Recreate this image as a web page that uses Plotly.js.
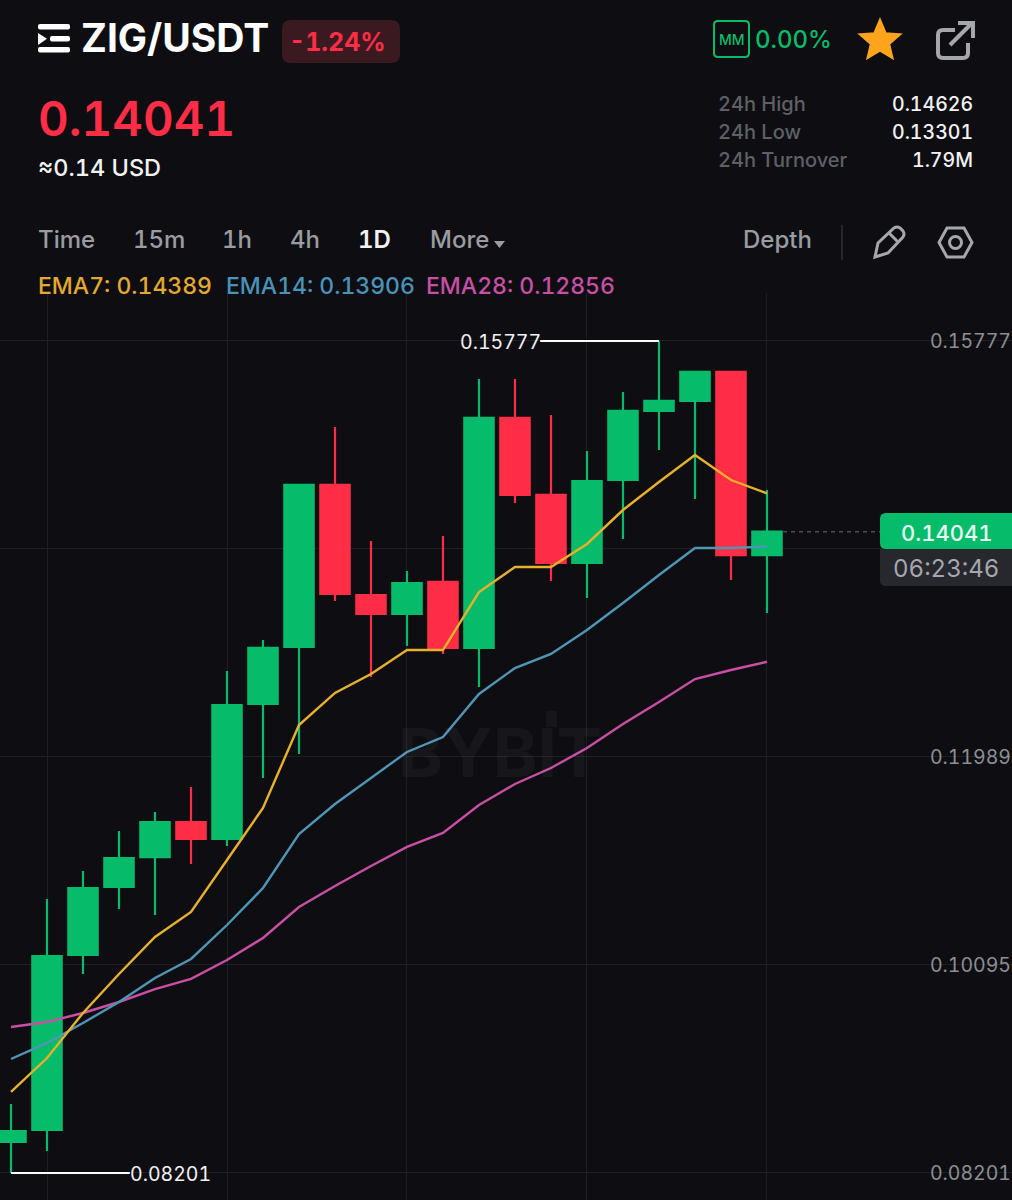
<!DOCTYPE html>
<html>
<head>
<meta charset="utf-8">
<script src="https://cdn.plot.ly/plotly-3.0.1.min.js"></script>
<style>html,body{margin:0;padding:0;background:#0E0E12;font-feature-settings:"tnum" 1;}#chart{width:1012px;height:1200px;}
text{font-feature-settings:"tnum" 1;}</style>
</head>
<body>
<div id="chart"></div>
<script>
// ---- data ----
const candleIndex = [0,1,2,3,4,5,6,7,8,9,10,11,12,13,14,15,16,17,18,19,20,21];
const openValues  = [.08483,.08593,.10186,.10805,.11078,.11397,.11242,.12472,.12991,.14466,.13464,.13291,.13583,.12982,.15076,.14375,.13756,.14511,.15140,.15231,.15495,.13828];
const highValues  = [.08829,.10696,.10951,.11315,.11488,.11716,.12772,.13054,.14475,.14994,.13956,.13683,.14001,.15431,.15431,.15103,.14775,.15313,.15777,.15495,.15495,.14420];
const lowValues   = [.08201,.08401,.10013,.10605,.10550,.11015,.11179,.11798,.12016,.13410,.12718,.13000,.12927,.12626,.14302,.13592,.13437,.13974,.14784,.14338,.13601,.13300];
const closeValues = [.08583,.10177,.10796,.11069,.11397,.11242,.12462,.12982,.14466,.13473,.13291,.13573,.12982,.15076,.14375,.13756,.14502,.15140,.15231,.15495,.13828,.14041];
const ema7Values  = [.08939,.09248,.09658,.10013,.10350,.10578,.11051,.11525,.12280,.12572,.12745,.12963,.12963,.13491,.13719,.13719,.13929,.14238,.14493,.14739,.14511,.14389];
const ema14Values = [.09239,.09385,.09567,.09758,.09977,.10150,.10459,.10796,.11288,.11561,.11798,.12035,.12171,.12563,.12799,.12927,.13145,.13391,.13646,.13892,.13892,.13906];
const ema28Values = [.09530,.09576,.09658,.09758,.09876,.09968,.10140,.10341,.10623,.10814,.10997,.11170,.11297,.11552,.11743,.11889,.12071,.12290,.12490,.12699,.12781,.12856];
const priceTicks  = [.15777,.13883,.11989,.10095,.08201];
const priceTickLabels = ['0.15777','','0.11989','0.10095','0.08201'];
const gridIndex   = [1,6,11,16,21,26];
const lastPrice = .14041, highestPrice = .15777, lowestPrice = .08201;

// ---- page geometry helpers ----
const W = 1012, H = 1200;
const FONT = 'Inter, "Noto Sans", sans-serif';
const BG = '#0E0E12', GREEN = '#06BC6B', RED = '#FF2D46', GREY = '#9A9CA2', DIM = '#5E6066';
const MARK = 'rgba(255,255,255,0.04)';
const fx = x => x / W, fy = y => 1 - y / H;
function P(d) { // pixel path -> paper path
  return d.replace(/(-?[\d.]+)[ ,]+(-?[\d.]+)/g, (m, a, b) => fx(+a).toFixed(5) + ',' + fy(+b).toFixed(5));
}
function rr(x0, y0, x1, y1, r) {
  return `M${x0+r},${y0} L${x1-r},${y0} Q${x1},${y0} ${x1},${y0+r} L${x1},${y1-r} Q${x1},${y1} ${x1-r},${y1} L${x0+r},${y1} Q${x0},${y1} ${x0},${y1-r} L${x0},${y0+r} Q${x0},${y0} ${x0+r},${y0} Z`;
}
function fillPath(d, color) {
  return {type:'path', xref:'paper', yref:'paper', path:P(d), fillcolor:color, line:{width:0}};
}
function strokePath(d, color, width, fill) {
  return {type:'path', xref:'paper', yref:'paper', path:P(d), fillcolor:fill||'rgba(0,0,0,0)', line:{color:color, width:width}};
}
function label(text, x, y, size, color, weight, anchor) {
  return {text:text, xref:'paper', yref:'paper', x:fx(x), y:fy(y), showarrow:false, borderpad:0, borderwidth:0,
    xanchor:anchor||'left', yanchor:'middle', font:{family:FONT, size:size, color:color, weight:weight||400}};
}

// ---- traces ----
const candles = {
  type:'candlestick', x:candleIndex, open:openValues, high:highValues, low:lowValues, close:closeValues,
  whiskerwidth:0,
  increasing:{line:{color:GREEN, width:2.2}, fillcolor:GREEN},
  decreasing:{line:{color:RED, width:2.2}, fillcolor:RED},
  hoverinfo:'skip', showlegend:false
};
const emaLine = (vals, color) => ({type:'scatter', mode:'lines', x:candleIndex, y:vals, line:{color:color, width:2.4}, hoverinfo:'skip', showlegend:false});
const traces = [candles, emaLine(ema28Values,'#C94FA6'), emaLine(ema14Values,'#4E96B5'), emaLine(ema7Values,'#E8B12B')];

// ---- decorations ----
const shapes = [
  // header
  fillPath(rr(38,24,70,29.5,2),'#FFFFFF'),
  fillPath(rr(50,36,70,41.5,2),'#FFFFFF'),
  fillPath(rr(38,47,70,52.5,2),'#FFFFFF'),
  fillPath('M38,33 L47,38.7 L38,45 Z','#FFFFFF'),
  fillPath(rr(282,20,400,63,9),'#3A1A20'),
  strokePath(rr(714,21,749,57,4),GREEN,2),
  strokePath('M880,21 L885.3,33.7 L899,34.8 L888.6,43.8 L891.8,57.2 L880,50 L868.2,57.2 L871.4,43.8 L861,34.8 L874.7,33.7 Z','#FFA41B',3,'#FFA41B'),
  strokePath('M955,30 L943,30 Q938,30 938,35 L938,53 Q938,58 943,58 L963,58 Q968,58 968,53 L968,43','#A5A7AD',4),
  strokePath('M950,45 L972,23','#A5A7AD',4),
  strokePath('M958,23 L973,23 L973,38','#A5A7AD',4),
  // toolbar
  fillPath('M494,241 L505,241 L499.5,248 Z',GREY),
  {type:'line', xref:'paper', yref:'paper', x0:fx(842), x1:fx(842), y0:fy(225), y1:fy(260), line:{color:'#2E3035', width:1.5}},
  strokePath('M875,257 L878,243 L894,228 Q897,226 900,228 L903,231 Q905,234 903,237 L888,253 Z','#A5A7AD',3),
  strokePath('M889,233 L898,242','#A5A7AD',3),
  strokePath('M947,228 L964,228 L972,242.5 L964,257 L947,257 L939,242.5 Z','#A5A7AD',3),
  {type:'circle', xref:'paper', yref:'paper', x0:fx(949.5), x1:fx(961.5), y0:fy(236.5), y1:fy(248.5), line:{color:'#A5A7AD', width:3}},
  // watermark: the raised stem of the I
  fillPath('M546,711 L557,711 L557,727 L546,727 Z',MARK),
  // highest / lowest leaders
  {type:'line', xref:'x', yref:'y', x0:14.7, x1:18, y0:highestPrice, y1:highestPrice, line:{color:'#FFFFFF', width:2}},
  {type:'line', xref:'x', yref:'y', x0:0, x1:3.3, y0:lowestPrice, y1:lowestPrice, line:{color:'#FFFFFF', width:2}},
  // current price
  {type:'line', xref:'paper', yref:'y', x0:fx(783), x1:fx(880), y0:lastPrice, y1:lastPrice, line:{color:'#4A4C52', width:1.5, dash:'4px,4px'}},
  fillPath('M890,549 L886,549 Q880,549 880,543 L880,519 Q880,513 886,513 L1012,513 L1012,549 Z',GREEN),
  fillPath('M880,549 L1012,549 L1012,586 L886,586 Q880,586 880,580 Z','#26282D')
];

const annotations = [
  label('ZIG/USDT',81,38,39,'#FFFFFF',700),
  label('-1.24%',289,42,25,RED,700),
  label('MM',731.5,40,14,GREEN,500,'center'),
  label('0.00%',755,40,24,GREEN,500),
  label('0.14041',38,118,47.5,RED,600),
  label('≈0.14 USD',38,167,23.5,'#F2F2F2',500),
  label('24h High',718,104,20,DIM,500),
  label('24h Low',718,132,20,DIM,500),
  label('24h Turnover',718,160,20,DIM,500),
  label('0.14626',973,104,19.5,'#F2F2F2',500,'right'),
  label('0.13301',973,132,19.5,'#F2F2F2',500,'right'),
  label('1.79M',973,160,19.5,'#F2F2F2',500,'right'),
  label('Time',38,240,24,GREY,500),
  label('15m',133,240,24,GREY,500),
  label('1h',222,240,24,GREY,500),
  label('4h',290,240,24,GREY,500),
  label('1D',358,240,24,'#F2F2F2',600),
  label('More',430,240,24,GREY,500),
  label('Depth',743,240,24,GREY,500),
  label('EMA7: 0.14389',38,286,23,'#E2A92E',500),
  label('EMA14: 0.13906',226,286,23,'#4A93B8',500),
  label('EMA28: 0.12856',426,286,23,'#C84FA6',500),
  label('BYBIT',500,752,68,MARK,700,'center'),
  label('0.15777',460,342,19.5,'#F2F2F2',400),
  label('0.08201',130,1174,19.5,'#F2F2F2',400),
  label('0.14041',946,533,22,'#E8FFF4',500,'center'),
  label('06:23:46',946,568,24,'#A5A7AD',400,'center')
];

const layout = {
  width:W, height:H, margin:{l:0,r:0,t:0,b:0}, paper_bgcolor:BG, plot_bgcolor:BG,
  showlegend:false, hovermode:false, boxgap:0.185, boxgroupgap:0, dragmode:false,
  xaxis:{type:'linear', domain:[0,1], range:[-0.3056,27.806], rangeslider:{visible:false}, tickmode:'array', tickvals:gridIndex,
    showticklabels:false, ticks:'', showgrid:true, gridcolor:'#1E1F24', gridwidth:1, zeroline:false, showline:false, fixedrange:true},
  yaxis:{domain:[0,0.75583], range:[.07955,.16214], side:'right', tickmode:'array', tickvals:priceTicks, ticktext:priceTickLabels,
    ticklabelposition:'inside', ticklabelstandoff:-2, ticks:'', showgrid:true, gridcolor:'#1E1F24', gridwidth:1, zeroline:false, showline:false, fixedrange:true,
    tickfont:{family:FONT, size:19.5, color:'#8C8E94'}},
  shapes:shapes, annotations:annotations
};
Plotly.newPlot('chart', traces, layout, {displayModeBar:false, responsive:false, staticPlot:true});
</script>
</body>
</html>
